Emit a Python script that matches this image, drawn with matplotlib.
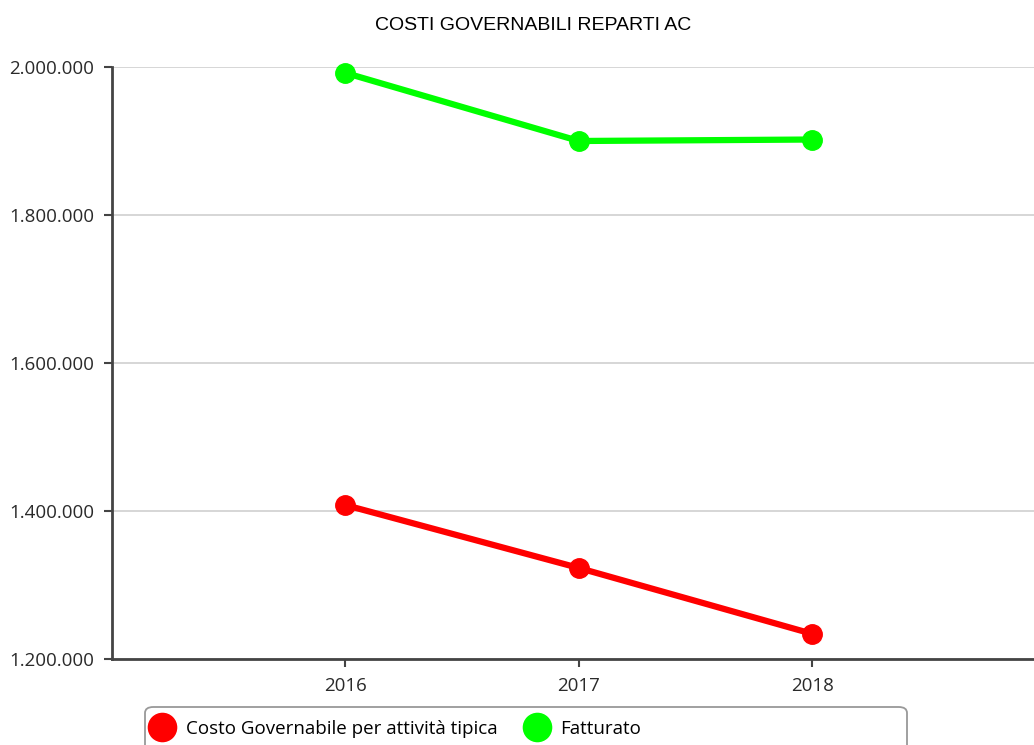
import matplotlib.pyplot as plt
from matplotlib.patches import FancyBboxPatch
from matplotlib.ticker import FuncFormatter

# dati
anni = [2016, 2017, 2018]
costo_governabile = [1408000, 1323000, 1234000]
fatturato = [1992000, 1900000, 1902000]
serie_labels = ['Costo Governabile per attività tipica', 'Fatturato']
titolo = 'COSTI GOVERNABILI REPARTI AC'

W, H = 1034, 745
fig = plt.figure(figsize=(W / 100, H / 100), dpi=100)
ax = fig.add_axes([112 / W, 86 / H, 1 - 112 / W, 592 / H])

ax.plot(anni, costo_governabile, color='#ff0000', linewidth=4.5, marker='o',
        markersize=14, label=serie_labels[0], zorder=3, clip_on=False)
ax.plot(anni, fatturato, color='#00ff00', linewidth=4.5, marker='o',
        markersize=14, label=serie_labels[1], zorder=3, clip_on=False)

ax.set_xlim(2015.0, 2018.95)
ax.set_ylim(1200000, 2000000)
ax.set_xticks(anni)
ax.set_yticks([1200000, 1400000, 1600000, 1800000, 2000000])
ax.yaxis.set_major_formatter(FuncFormatter(lambda v, p: f'{int(v):,}'.replace(',', '.')))

ax.grid(axis='y', color='#d0d0d0', linewidth=1.2)
ax.set_axisbelow(True)
for s in ['top', 'right']:
    ax.spines[s].set_visible(False)
for s in ['left', 'bottom']:
    ax.spines[s].set_color('#444444')
    ax.spines[s].set_linewidth(2)
ax.tick_params(colors='#444444', labelcolor='#2a2a2a', width=1.5, length=6,
               labelsize=13.5, pad=7)
for lbl in ax.get_xticklabels() + ax.get_yticklabels():
    lbl.set_fontfamily('Open Sans')

fig.text(0.516, 1 - 25 / H, titolo, ha='center', va='center',
         fontsize=14, family='Liberation Sans')

# riquadro della legenda (tagliato in basso come nell'originale)
fig.patches.append(FancyBboxPatch((145 / W, -10 / H), 762 / W, 48 / H,
                                  boxstyle='round,pad=0,rounding_size=0.008',
                                  transform=fig.transFigure, facecolor='white',
                                  edgecolor='#999999', linewidth=1.3))
leg = fig.legend(loc='center left', bbox_to_anchor=(153 / W, 1 - 729 / H),
                 ncol=2, frameon=False, prop={'family': 'Open Sans', 'size': 13.5},
                 handlelength=1.0, handletextpad=0.75, columnspacing=1.6,
                 borderaxespad=0, borderpad=0, markerscale=1.45)
for h in leg.legend_handles:
    h.set_linestyle('none')

plt.savefig('out.png', dpi=100)
